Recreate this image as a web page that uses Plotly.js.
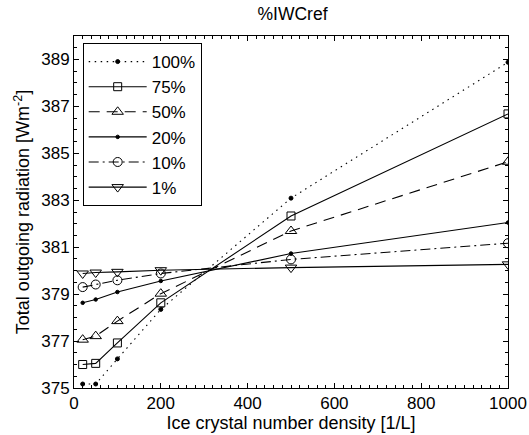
<!DOCTYPE html>
<html>
<head>
<meta charset="utf-8">
<script src="https://cdn.plot.ly/plotly-3.0.1.min.js"></script>
<style>html,body{margin:0;padding:0;background:#fff}#chart{width:529px;height:435px}</style>
</head>
<body>
<div id="chart"></div>
<script>
const density = [20, 50, 100, 200, 500, 1000];
const seriesNames = ["100%", "75%", "50%", "20%", "10%", "1%"];
const r100 = [375.17, 375.17, 376.24, 378.35, 383.09, 388.88];
const r75  = [376.00, 376.05, 376.92, 378.63, 382.33, 386.68];
const r50  = [377.06, 377.21, 377.85, 379.02, 381.69, 384.64];
const r20  = [378.63, 378.77, 379.09, 379.56, 380.73, 382.05];
const r10  = [379.30, 379.41, 379.59, 379.88, 380.48, 381.17];
const r1   = [379.88, 379.92, 379.95, 380.02, 380.13, 380.27];
const xTicks = [0, 200, 400, 600, 800, 1000];
const yTicks = [375, 377, 379, 381, 383, 385, 387, 389];

const styles = [
  {dash: '1.5px,4.5px', symbol: 'circle', size: 4},
  {dash: 'solid', symbol: 'square-open', size: 8},
  {dash: '11px,7px', symbol: 'triangle-up-open', size: 10},
  {dash: 'solid', symbol: 'circle', size: 3.5},
  {dash: '10px,4px,2px,4px', symbol: 'circle-open', size: 9},
  {dash: 'solid', symbol: 'triangle-down-open', size: 10}
];
const all = [r100, r75, r50, r20, r10, r1];
const traces = all.map((ys, i) => ({
  x: density, y: ys, name: seriesNames[i], type: 'scatter', mode: 'lines+markers',
  line: {color: 'black', width: 1.1, dash: styles[i].dash},
  marker: {symbol: styles[i].symbol, size: styles[i].size, color: 'black', line: {color: 'black', width: 1}}
}));

const FONT = 'Liberation Sans, Arial, sans-serif';
const axisCommon = {
  showline: true, linecolor: 'black', linewidth: 1, mirror: 'allticks',
  ticks: 'inside', ticklen: 5, tickcolor: 'black', showgrid: false, zeroline: false,
  tickfont: {family: FONT, size: 17, color: 'black'}
};
const layout = {
  width: 529, height: 435,
  margin: {l: 74, r: 21, t: 36, b: 47},
  paper_bgcolor: 'white', plot_bgcolor: 'white',
  font: {family: FONT, color: 'black'},
  title: {text: '%IWCref', font: {size: 17.5}, x: 0.553, xanchor: 'center', y: 0.968, yanchor: 'middle'},
  xaxis: Object.assign({}, axisCommon, {
    range: [0, 1000], tickvals: xTicks, ticktext: xTicks.map(String),
    minor: {dtick: 20, ticks: 'inside', ticklen: 3, tickcolor: 'black', showgrid: false},
    title: {text: 'Ice crystal number density [1/L]', font: {size: 18}, standoff: 2}
  }),
  yaxis: Object.assign({}, axisCommon, {
    range: [375, 390], tickvals: yTicks, ticktext: yTicks.map(String),
    minor: {dtick: 0.5, tick0: 375, ticks: 'inside', ticklen: 3, tickcolor: 'black', showgrid: false},
    title: {text: 'Total outgoing radiation [Wm<sup>-2</sup>]', font: {size: 18}, standoff: 6}
  }),
  legend: {
    x: 0.02, y: 0.98, xanchor: 'left', yanchor: 'top',
    bordercolor: 'black', borderwidth: 1, bgcolor: 'white',
    font: {size: 17}, tracegroupgap: 0, itemwidth: 58
  },
  showlegend: true
};
Plotly.newPlot('chart', traces, layout, {displayModeBar: false, staticPlot: true});
</script>
</body>
</html>
